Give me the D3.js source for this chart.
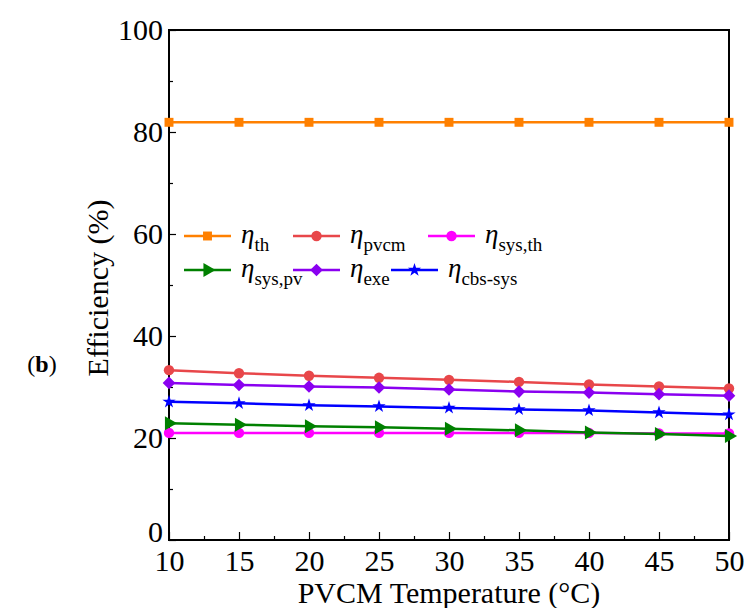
<!DOCTYPE html>
<html>
<head>
<meta charset="utf-8">
<script src="https://cdn.jsdelivr.net/npm/d3@7"></script>
<style>
  body { margin: 0; background: #fff; }
  text { font-family: "Liberation Serif", "Times New Roman", serif; fill: #000; }
</style>
</head>
<body>
<div id="chart"></div>
<script>
const W = 745, H = 608;
const MARGIN = { LEFT: 169, RIGHT: 16, TOP: 30, BOTTOM: 68 };
const WIDTH = W - MARGIN.LEFT - MARGIN.RIGHT;
const HEIGHT = H - MARGIN.TOP - MARGIN.BOTTOM;

// data
const temps = [10, 15, 20, 25, 30, 35, 40, 45, 50];
const etaTh = [81.9, 81.9, 81.9, 81.9, 81.9, 81.9, 81.9, 81.9, 81.9];
const etaPvcm = [33.3, 32.7, 32.2, 31.8, 31.4, 31.0, 30.5, 30.1, 29.7];
const etaSysTh = [21.0, 21.0, 21.0, 21.0, 21.0, 21.0, 21.0, 20.9, 20.9];
const etaSysPv = [22.9, 22.6, 22.3, 22.1, 21.8, 21.5, 21.1, 20.8, 20.4];
const etaExe = [30.8, 30.4, 30.1, 29.9, 29.5, 29.1, 28.9, 28.6, 28.3];
const etaCbs = [27.1, 26.8, 26.4, 26.2, 25.9, 25.6, 25.4, 25.0, 24.6];
const xTicks = [10, 15, 20, 25, 30, 35, 40, 45, 50];
const yTicks = [0, 20, 40, 60, 80, 100];

const series = [
  { sub: "th", values: etaTh, color: "#ff8000", shape: "square" },
  { sub: "pvcm", values: etaPvcm, color: "#e8474a", shape: "circle" },
  { sub: "sys,th", values: etaSysTh, color: "#ff00ff", shape: "circle" },
  { sub: "sys,pv", values: etaSysPv, color: "#008000", shape: "triangle" },
  { sub: "exe", values: etaExe, color: "#8a00f0", shape: "diamond" },
  { sub: "cbs-sys", values: etaCbs, color: "#0000ff", shape: "star" }
];

const svg = d3.select("#chart").append("svg")
  .attr("width", W)
  .attr("height", H);

const g = svg.append("g")
  .attr("transform", `translate(${MARGIN.LEFT}, ${MARGIN.TOP})`);

// scales
const x = d3.scaleLinear().domain([10, 50]).range([0, WIDTH]);
const y = d3.scaleLinear().domain([0, 100]).range([HEIGHT, 0]);

// axes, ticks pointing inward
const xAxis = g.append("g")
  .attr("transform", `translate(0, ${HEIGHT})`)
  .call(d3.axisBottom(x).tickValues(xTicks).tickSizeInner(-8).tickSizeOuter(0).tickPadding(14));
const xMinor = g.append("g")
  .attr("transform", `translate(0, ${HEIGHT})`)
  .call(d3.axisBottom(x).tickValues(d3.range(12.5, 50, 5)).tickSize(-4).tickFormat(""));
const yAxis = g.append("g")
  .call(d3.axisLeft(y).tickValues(yTicks).tickSizeInner(-7).tickSizeOuter(0).tickPadding(6));
const yMinor = g.append("g")
  .call(d3.axisLeft(y).tickValues(d3.range(10, 100, 20)).tickSize(-4).tickFormat(""));

[xAxis, xMinor, yAxis, yMinor].forEach(a => {
  a.select(".domain").remove();
  a.selectAll(".tick line").attr("stroke", "#000").attr("stroke-width", 1.2);
});
xAxis.selectAll(".tick text")
  .attr("font-size", "30px")
  .attr("dy", "0.55em");
yAxis.selectAll(".tick text")
  .attr("font-size", "30px")
  .attr("dy", d => d === 0 ? "0.05em" : "0.32em");

// frame
g.append("rect")
  .attr("width", WIDTH)
  .attr("height", HEIGHT)
  .attr("fill", "none")
  .attr("stroke", "#000")
  .attr("stroke-width", 2);

// axis labels
g.append("text")
  .attr("x", WIDTH / 2)
  .attr("y", HEIGHT + 63)
  .attr("text-anchor", "middle")
  .attr("font-size", "30px")
  .text("PVCM Temperature (\u00B0C)");
g.append("text")
  .attr("transform", "rotate(-90)")
  .attr("x", -258)
  .attr("y", -61)
  .attr("text-anchor", "middle")
  .attr("font-size", "30px")
  .text("Efficiency (%)");

// panel label
const lab = svg.append("text")
  .attr("x", 42)
  .attr("y", 372)
  .attr("text-anchor", "middle")
  .attr("font-size", "24px");
lab.append("tspan").text("(");
lab.append("tspan").attr("font-weight", "bold").text("b");
lab.append("tspan").text(")");

// marker shapes
function symbolPath(shape) {
  if (shape === "square") return d3.symbol(d3.symbolSquare, 80)();
  if (shape === "circle") return d3.symbol(d3.symbolCircle, 85)();
  if (shape === "triangle") return d3.symbol(d3.symbolTriangle, 85)();
  if (shape === "diamond") return d3.symbol(d3.symbolSquare, 80)();
  return d3.symbol(d3.symbolStar, 55)();
}
function symbolRotate(shape) {
  if (shape === "triangle") return 90;
  if (shape === "diamond") return 45;
  return 0;
}

const line = d3.line()
  .x((d, i) => x(temps[i]))
  .y(d => y(d));

// draw series
series.forEach(s => {
  const sg = g.append("g");
  sg.append("path")
    .attr("d", line(s.values))
    .attr("fill", "none")
    .attr("stroke", s.color)
    .attr("stroke-width", 2.5);
  sg.selectAll("path.m")
    .data(s.values)
    .join("path")
    .attr("class", "m")
    .attr("d", symbolPath(s.shape))
    .attr("fill", s.color)
    .attr("transform", (d, i) => `translate(${x(temps[i])}, ${y(d)}) rotate(${symbolRotate(s.shape)})`);
});

// legend
const legendPos = [
  [15, 206], [124, 206], [259, 206],
  [15, 240], [124, 240], [222, 240]
];
series.forEach((s, i) => {
  const lg = g.append("g")
    .attr("transform", `translate(${legendPos[i][0]}, ${legendPos[i][1]})`);
  lg.append("line")
    .attr("x1", 0).attr("x2", 47)
    .attr("stroke", s.color)
    .attr("stroke-width", 2.5);
  lg.append("path")
    .attr("d", symbolPath(s.shape))
    .attr("fill", s.color)
    .attr("transform", `translate(23.5, 0) rotate(${symbolRotate(s.shape)})`);
  const t = lg.append("text")
    .attr("x", 57)
    .attr("y", 7)
    .attr("font-size", "27px");
  t.append("tspan").attr("font-style", "italic").text("\u03B7");
  t.append("tspan").attr("font-size", "19px").attr("dy", 8).text(s.sub);
});
</script>
</body>
</html>
